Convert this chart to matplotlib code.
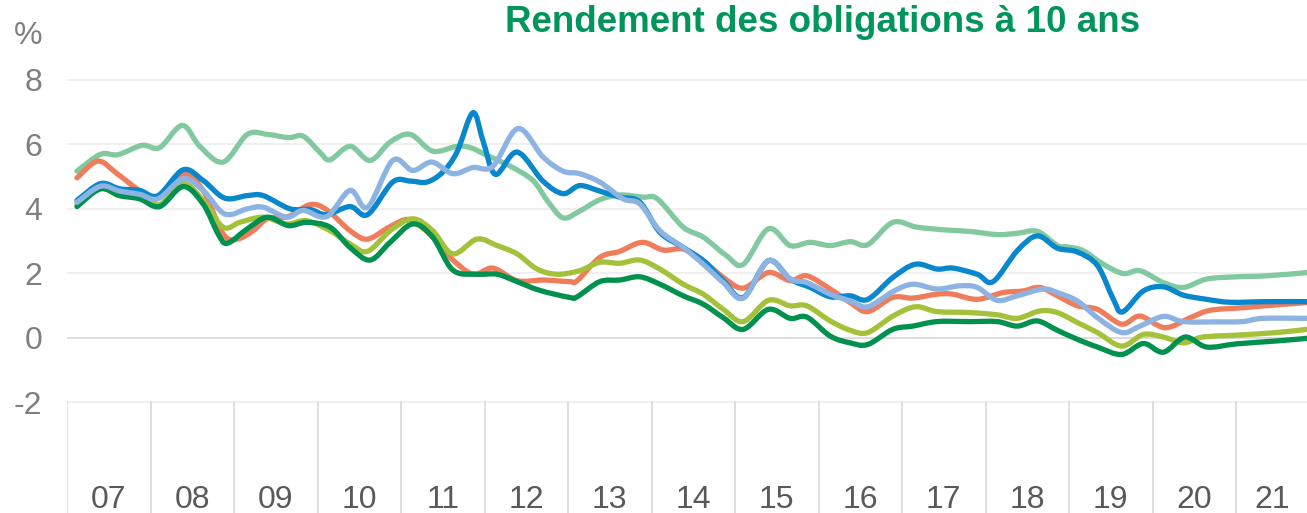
import numpy as np
import matplotlib.pyplot as plt
from matplotlib.path import Path
from matplotlib.patches import PathPatch

# Rendement des obligations à 10 ans (%)
x_lg = [2007.12, 2007.40, 2007.61, 2007.90, 2008.11, 2008.38, 2008.59, 2008.87, 2009.16, 2009.40,
        2009.65, 2009.83, 2010.03, 2010.15, 2010.39, 2010.63, 2010.87, 2011.11, 2011.38, 2011.67,
        2011.83, 2012.03, 2012.31, 2012.58, 2012.75, 2012.94, 2013.14, 2013.38, 2013.62, 2013.90,
        2014.07, 2014.38, 2014.62, 2014.90, 2015.10, 2015.40, 2015.66, 2015.90, 2016.14, 2016.38,
        2016.59, 2016.89, 2017.18, 2017.54, 2017.81, 2018.14, 2018.38, 2018.62, 2018.86, 2018.98,
        2019.17, 2019.41, 2019.65, 2019.85, 2020.13, 2020.37, 2020.65, 2021.01, 2021.37, 2021.85]
y_lg = [5.17, 5.69, 5.68, 5.97, 5.90, 6.59, 5.94, 5.45, 6.31, 6.31,
        6.21, 6.25, 5.75, 5.52, 5.94, 5.50, 6.07, 6.31, 5.79, 5.94,
        5.90, 5.66, 5.32, 4.88, 4.26, 3.72, 3.93, 4.28, 4.43, 4.36,
        4.31, 3.43, 3.12, 2.54, 2.28, 3.38, 2.86, 2.96, 2.86, 2.98,
        2.89, 3.58, 3.43, 3.34, 3.30, 3.20, 3.24, 3.30, 2.86, 2.82,
        2.70, 2.28, 1.99, 2.08, 1.71, 1.56, 1.82, 1.89, 1.92, 2.02]

x_b = [2007.12, 2007.40, 2007.63, 2007.87, 2008.09, 2008.39, 2008.63, 2008.89, 2009.16, 2009.35,
       2009.67, 2009.91, 2010.11, 2010.39, 2010.60, 2010.90, 2011.11, 2011.31, 2011.50, 2011.67,
       2011.86, 2011.98, 2012.13, 2012.39, 2012.70, 2012.94, 2013.14, 2013.38, 2013.62, 2013.86,
       2014.10, 2014.38, 2014.62, 2014.86, 2015.10, 2015.40, 2015.66, 2015.90, 2016.14, 2016.38,
       2016.59, 2016.89, 2017.16, 2017.42, 2017.61, 2017.90, 2018.09, 2018.38, 2018.62, 2018.86,
       2019.10, 2019.34, 2019.53, 2019.64, 2019.89, 2020.13, 2020.37, 2020.65, 2020.93, 2021.37,
       2021.85]
y_b = [4.26, 4.78, 4.62, 4.57, 4.41, 5.21, 4.88, 4.33, 4.41, 4.41,
       4.00, 3.98, 3.82, 4.07, 3.82, 4.83, 4.86, 4.83, 5.14, 5.76,
       6.98, 6.13, 5.07, 5.76, 4.86, 4.47, 4.72, 4.55, 4.36, 4.21,
       3.27, 2.80, 2.39, 1.77, 1.25, 2.39, 1.82, 1.56, 1.27, 1.30,
       1.19, 1.87, 2.28, 2.13, 2.16, 1.97, 1.74, 2.70, 3.16, 2.78,
       2.66, 2.24, 1.20, 0.80, 1.45, 1.58, 1.32, 1.19, 1.10, 1.12,
       1.12]

x_lb = [2007.12, 2007.40, 2007.63, 2007.87, 2008.09, 2008.39, 2008.63, 2008.89, 2009.16, 2009.35,
        2009.63, 2009.83, 2010.11, 2010.39, 2010.60, 2010.90, 2011.14, 2011.37, 2011.62, 2011.86,
        2012.10, 2012.40, 2012.70, 2012.94, 2013.14, 2013.38, 2013.66, 2013.86, 2014.10, 2014.38,
        2014.62, 2014.86, 2015.10, 2015.40, 2015.66, 2015.86, 2016.14, 2016.38, 2016.59, 2016.89,
        2017.13, 2017.42, 2017.69, 2017.90, 2018.14, 2018.38, 2018.69, 2018.86, 2019.10, 2019.34,
        2019.63, 2019.85, 2020.13, 2020.37, 2020.77, 2021.08, 2021.32, 2021.85]
y_lb = [4.20, 4.70, 4.55, 4.45, 4.31, 4.93, 4.57, 3.84, 4.00, 4.05,
        3.74, 3.95, 3.76, 4.57, 4.05, 5.50, 5.19, 5.45, 5.09, 5.28,
        5.32, 6.49, 5.61, 5.17, 5.09, 4.83, 4.31, 4.15, 3.32, 2.80,
        2.28, 1.71, 1.23, 2.39, 1.82, 1.71, 1.35, 1.14, 0.96, 1.43,
        1.66, 1.51, 1.61, 1.56, 1.16, 1.30, 1.51, 1.40, 1.14, 0.62,
        0.16, 0.36, 0.66, 0.50, 0.49, 0.50, 0.60, 0.60]

x_o = [2007.12, 2007.37, 2007.60, 2007.87, 2008.09, 2008.39, 2008.63, 2008.87, 2009.04, 2009.23,
       2009.40, 2009.65, 2009.91, 2010.11, 2010.39, 2010.60, 2010.87, 2011.11, 2011.38, 2011.59,
       2011.86, 2012.10, 2012.39, 2012.70, 2013.02, 2013.11, 2013.38, 2013.62, 2013.89, 2014.14,
       2014.38, 2014.62, 2014.86, 2015.10, 2015.40, 2015.66, 2015.86, 2016.14, 2016.38, 2016.59,
       2016.89, 2017.13, 2017.42, 2017.61, 2017.90, 2018.21, 2018.45, 2018.65, 2018.86, 2019.10,
       2019.34, 2019.63, 2019.85, 2020.15, 2020.45, 2020.69, 2021.08, 2021.49, 2021.85]
y_o = [4.96, 5.48, 5.09, 4.57, 4.38, 5.09, 4.57, 3.22, 3.06, 3.32,
       3.69, 3.76, 4.13, 3.97, 3.32, 3.06, 3.45, 3.66, 3.12, 2.49,
       1.97, 2.16, 1.77, 1.79, 1.74, 1.77, 2.49, 2.68, 2.96, 2.72,
       2.75, 2.39, 1.87, 1.54, 2.02, 1.77, 1.92, 1.51, 1.09, 0.81,
       1.25, 1.23, 1.35, 1.35, 1.19, 1.40, 1.45, 1.56, 1.30, 0.99,
       0.88, 0.42, 0.67, 0.31, 0.62, 0.85, 0.93, 1.02, 1.09]

x_yg = [2007.12, 2007.40, 2007.63, 2007.87, 2008.11, 2008.39, 2008.63, 2008.87, 2009.07, 2009.35,
        2009.63, 2009.87, 2010.15, 2010.39, 2010.60, 2010.87, 2011.14, 2011.38, 2011.62, 2011.91,
        2012.15, 2012.39, 2012.63, 2012.87, 2013.14, 2013.38, 2013.62, 2013.86, 2014.10, 2014.38,
        2014.62, 2014.86, 2015.10, 2015.40, 2015.66, 2015.86, 2016.14, 2016.38, 2016.59, 2016.89,
        2017.16, 2017.42, 2017.81, 2018.14, 2018.38, 2018.65, 2018.86, 2019.10, 2019.34, 2019.63,
        2019.89, 2020.13, 2020.37, 2020.60, 2021.01, 2021.49, 2021.85]
y_yg = [4.13, 4.62, 4.41, 4.41, 4.13, 4.78, 4.26, 3.43, 3.58, 3.74,
        3.53, 3.63, 3.32, 2.91, 2.68, 3.32, 3.69, 3.32, 2.60, 3.06,
        2.86, 2.60, 2.13, 1.97, 2.08, 2.34, 2.31, 2.41, 2.13, 1.66,
        1.35, 0.88, 0.50, 1.16, 0.99, 0.99, 0.52, 0.23, 0.16, 0.67,
        0.96, 0.81, 0.78, 0.71, 0.60, 0.83, 0.78, 0.47, 0.16, -0.26,
        0.10, 0.02, -0.16, 0.02, 0.08, 0.16, 0.26]

x_dg = [2007.12, 2007.40, 2007.63, 2007.87, 2008.11, 2008.39, 2008.63, 2008.81, 2008.92, 2009.16,
        2009.40, 2009.65, 2009.87, 2010.15, 2010.39, 2010.63, 2010.87, 2011.14, 2011.38, 2011.62,
        2011.91, 2012.15, 2012.39, 2012.66, 2013.02, 2013.11, 2013.38, 2013.62, 2013.86, 2014.10,
        2014.38, 2014.62, 2014.86, 2015.10, 2015.40, 2015.66, 2015.86, 2016.14, 2016.38, 2016.59,
        2016.89, 2017.13, 2017.42, 2017.81, 2018.14, 2018.38, 2018.62, 2018.86, 2019.10, 2019.34,
        2019.63, 2019.89, 2020.13, 2020.39, 2020.65, 2021.01, 2021.49, 2021.85]
y_dg = [4.07, 4.62, 4.41, 4.31, 4.07, 4.69, 4.15, 3.22, 2.93, 3.38,
        3.74, 3.48, 3.58, 3.43, 2.80, 2.41, 2.96, 3.53, 3.12, 2.10,
        1.97, 1.97, 1.74, 1.47, 1.25, 1.27, 1.74, 1.79, 1.89, 1.66,
        1.30, 1.04, 0.62, 0.26, 0.88, 0.60, 0.64, 0.05, -0.16, -0.21,
        0.26, 0.36, 0.50, 0.50, 0.50, 0.36, 0.52, 0.23, -0.05, -0.29,
        -0.52, -0.18, -0.45, 0.02, -0.29, -0.19, -0.10, -0.02]

years = list(range(2007, 2022))
year_labels = ['07', '08', '09', '10', '11', '12', '13', '14', '15', '16', '17', '18', '19', '20', '21']
y_ticks = [-2, 0, 2, 4, 6, 8]

series = [
    (x_lg, y_lg, '#82c9a0'),
    (x_o, y_o, '#ef7d5c'),
    (x_yg, y_yg, '#a3c23a'),
    (x_dg, y_dg, '#00914f'),
    (x_b, y_b, '#0887cc'),
    (x_lb, y_lb, '#8db3e2'),
]


def smooth_path(xs, ys):
    # ligne lissée façon Excel : segments de Bézier cubiques passant par chaque point
    p = np.column_stack([xs, ys])
    n = len(p)
    verts = [p[0]]
    codes = [Path.MOVETO]
    for i in range(n - 1):
        prev = p[i - 1] if i > 0 else p[i]
        nxt = p[i + 2] if i + 2 < n else p[i + 1]
        c1 = p[i] + (p[i + 1] - prev) / 6
        c2 = p[i + 1] - (nxt - p[i]) / 6
        verts += [c1, c2, p[i + 1]]
        codes += [Path.CURVE4] * 3
    return Path(verts, codes)


plt.rcParams['font.family'] = ['Liberation Sans', 'DejaVu Sans']

fig = plt.figure(figsize=(13.07, 5.13), dpi=100)
ax = fig.add_axes([67 / 1307, 0, 1 - 67 / 1307, 1])
ax.set_xlim(2007, 2021.85)
ax.set_ylim(-5.44, 10.48)

# grille horizontale
for v in y_ticks:
    ax.axhline(v, color='#d9d9d9' if v == 0 else '#efefef', lw=1.3, zorder=0)
# séparateurs d'années sous l'axe
for yr in years:
    ax.plot([yr, yr], [-2, -5.44], color='#d9d9d9', lw=1.2, zorder=0)

for xs, ys, c in series:
    ax.add_patch(PathPatch(smooth_path(xs, ys), fill=False, edgecolor=c, lw=3.8,
                           joinstyle='round', capstyle='round'))

for sp in ax.spines.values():
    sp.set_visible(False)

ax.set_yticks(y_ticks)
ax.set_yticklabels([str(v) for v in y_ticks])
ax.tick_params(axis='y', length=0, pad=18, labelsize=23, labelcolor='#7f7f7f')

ax.set_xticks([])
centers = [yr + 0.5 for yr in years[:-1]] + [2021.43]
for cx, lab in zip(centers, year_labels):
    ax.text(cx, -5.30, lab, ha='center', va='baseline', fontsize=23, color='#595959')

fig.text(28 / 1307, 1 - 36 / 513, '%', ha='center', va='center', fontsize=23, color='#7f7f7f')
fig.text(823 / 1307, 1 - 22 / 513, 'Rendement des obligations à 10 ans', ha='center', va='center',
         fontsize=26.5, fontweight='bold', color='#00955a')

fig.savefig('out.png', dpi=100)
